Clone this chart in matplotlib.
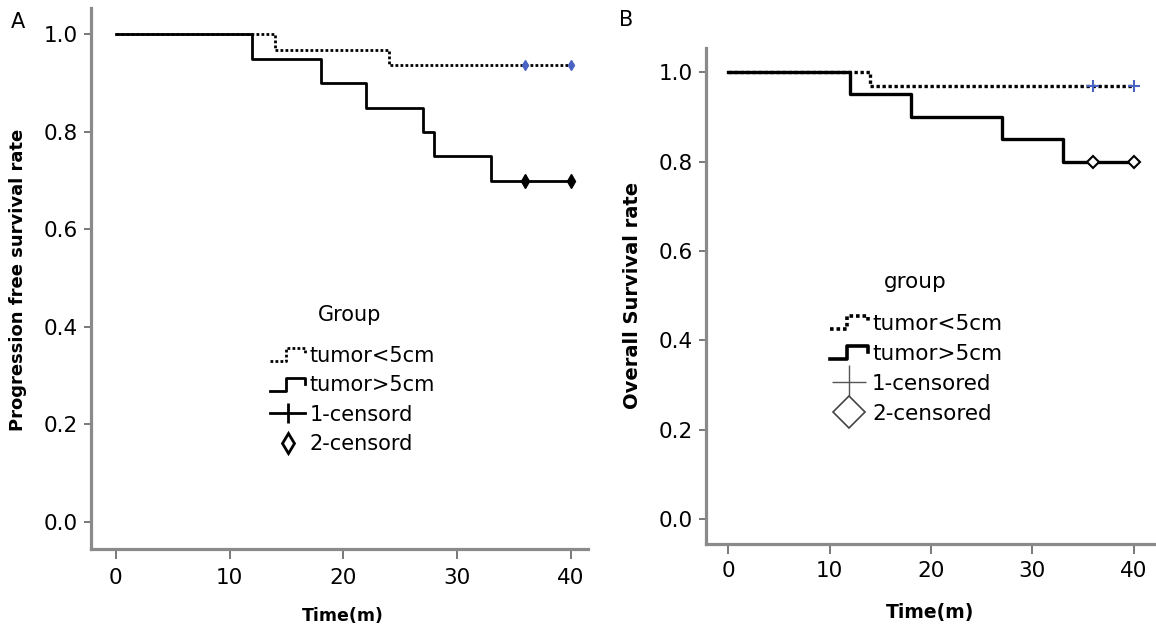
import matplotlib
matplotlib.use("Agg")
import matplotlib.pyplot as plt
import numpy as np
from matplotlib.legend_handler import HandlerBase
from matplotlib.lines import Line2D

# panel A: progression free survival
pfs_time_small = [0, 14, 24, 40]
pfs_surv_small = [1.0, 0.969, 0.938, 0.938]
pfs_time_large = [0, 12, 18, 22, 27, 28, 33, 40]
pfs_surv_large = [1.0, 0.95, 0.90, 0.85, 0.80, 0.75, 0.70, 0.70]
pfs_cens_time = [36, 40]
pfs_cens_small = [0.938, 0.938]
pfs_cens_large = [0.70, 0.70]

# panel B: overall survival
os_time_small = [0, 14, 40]
os_surv_small = [1.0, 0.969, 0.969]
os_time_large = [0, 12, 18, 27, 33, 40]
os_surv_large = [1.0, 0.95, 0.90, 0.85, 0.80, 0.80]
os_cens_time = [36, 40]
os_cens_small = [0.969, 0.969]
os_cens_large = [0.80, 0.80]

x_ticks = [0, 10, 20, 30, 40]
y_ticks = [0.0, 0.2, 0.4, 0.6, 0.8, 1.0]

SPINE = "#8a8a8a"
TICK = "#555555"
BLUE = "#4a62c4"
DOTS = (0, (1, 0.8))


class HandlerStep(HandlerBase):
    """Little Kaplan-Meier step glyph like SPSS draws in its legends."""

    def create_artists(self, legend, orig_handle, xdescent, ydescent, width, height, fontsize, trans):
        x0, y0 = -xdescent, -ydescent
        xm = x0 + 0.45 * width
        xs = [x0, xm, xm, x0 + width, x0 + width]
        ys = [y0 + 0.05 * height, y0 + 0.05 * height, y0 + 0.95 * height, y0 + 0.95 * height, y0 + 0.5 * height]
        line = Line2D(xs, ys)
        self.update_prop(line, orig_handle, legend)
        line.set_marker("None")
        line.set_transform(trans)
        return [line]


def style_axes(ax, xlim, ylim, xpad):
    ax.set_xlim(*xlim)
    ax.set_ylim(*ylim)
    ax.set_xticks(x_ticks)
    ax.set_yticks(y_ticks)
    ax.set_yticklabels([f"{v:.1f}" for v in y_ticks])
    for side in ("top", "right"):
        ax.spines[side].set_visible(False)
    for side in ("left", "bottom"):
        ax.spines[side].set_color(SPINE)
        ax.spines[side].set_linewidth(2.3)
    ax.tick_params(axis="y", direction="out", length=5, width=1.1, color=TICK, labelsize=15.5, pad=4)
    ax.tick_params(axis="x", direction="out", length=7, width=1.1, color=TICK, labelsize=15.5, pad=xpad)


fig = plt.figure(figsize=(11.56, 6.3), dpi=100)

# ---- A ----
ax = fig.add_axes([0.0785, 0.1286, 0.4302, 0.8584])
style_axes(ax, (-2.2, 41.5), (-0.056, 1.054), 6.5)
ax.step(pfs_time_small, pfs_surv_small, where="post", color="black", lw=2.0, ls=DOTS)
ax.step(pfs_time_large, pfs_surv_large, where="post", color="black", lw=2.0)
ax.plot(pfs_cens_time, pfs_cens_small, ls="none", marker="d", ms=5, color=BLUE)
ax.plot(pfs_cens_time, pfs_cens_large, ls="none", marker="d", ms=7, color="black")
ax.set_xlabel("Time(m)", fontsize=12.5, fontweight="bold")
ax.set_ylabel("Progression free survival rate", fontsize=13, fontweight="bold")
ax.xaxis.label.set(va="center")
ax.yaxis.label.set(va="center", ha="center", rotation_mode="default")
ax.xaxis.set_label_coords(0.507, -0.124)
ax.yaxis.set_label_coords(-0.146, 0.497)

h_small = Line2D([], [], color="black", lw=2.0, ls=DOTS)
h_large = Line2D([], [], color="black", lw=2.0)
h_c1 = Line2D([], [], color="black", lw=2.0, marker="|", ms=15, mew=2.0)
h_c2 = Line2D([], [], ls="none", marker="d", ms=10, mfc="white", mec="black", mew=2.0)
ax.legend([h_small, h_large, h_c1, h_c2], ["tumor<5cm", "tumor>5cm", "1-censord", "2-censord"],
          loc="upper left", bbox_to_anchor=(270 / 1156, 1 - 346 / 630), bbox_transform=fig.transFigure,
          frameon=False, fontsize=15, handlelength=1.7, handletextpad=0.2, labelspacing=0.45,
          borderpad=0, borderaxespad=0,
          handler_map={h_small: HandlerStep(), h_large: HandlerStep()})
fig.text(350 / 1156, 1 - 315 / 630, "Group", fontsize=15, ha="center", va="center")
fig.text(18 / 1156, 1 - 22 / 630, "A", fontsize=15, ha="center", va="center")

# ---- B ----
ax = fig.add_axes([0.6105, 0.1365, 0.3885, 0.7873])
style_axes(ax, (-2.23, 42.1), (-0.056, 1.054), 5)
ax.step(os_time_small, os_surv_small, where="post", color="black", lw=2.4, ls=DOTS)
ax.step(os_time_large, os_surv_large, where="post", color="black", lw=2.4)
ax.plot(os_cens_time, os_cens_small, ls="none", marker="+", ms=9, mew=1.5, color=BLUE)
ax.plot(os_cens_time, os_cens_large, ls="none", marker="D", ms=6, mfc="white", mec="black", mew=1.5)
ax.set_xlabel("Time(m)", fontsize=13.5, fontweight="bold")
ax.set_ylabel("Overall Survival rate", fontsize=14, fontweight="bold")
ax.xaxis.label.set(va="center")
ax.yaxis.label.set(va="center", ha="center", rotation_mode="default")
ax.xaxis.set_label_coords(0.5, -0.139)
ax.yaxis.set_label_coords(-0.162, 0.502)

h_small = Line2D([], [], color="black", lw=2.6, ls=DOTS)
h_large = Line2D([], [], color="black", lw=2.6)
h_c1 = Line2D([], [], ls="none", marker="+", ms=24, mew=1.0, color="#555555")
h_c2 = Line2D([], [], ls="none", marker="D", ms=16, mfc="white", mec="#444444", mew=1.2)
ax.legend([h_small, h_large, h_c1, h_c2], ["tumor<5cm", "tumor>5cm", "1-censored", "2-censored"],
          loc="upper left", bbox_to_anchor=(830 / 1156, 1 - 314 / 630), bbox_transform=fig.transFigure,
          frameon=False, fontsize=15.5, handlelength=1.75, handletextpad=0.2, labelspacing=0.46,
          borderpad=0, borderaxespad=0,
          handler_map={h_small: HandlerStep(), h_large: HandlerStep()})
fig.text(915 / 1156, 1 - 282 / 630, "group", fontsize=15.5, ha="center", va="center")
fig.text(626 / 1156, 1 - 20 / 630, "B", fontsize=15, ha="center", va="center")

fig.savefig("out.png", dpi=100)
